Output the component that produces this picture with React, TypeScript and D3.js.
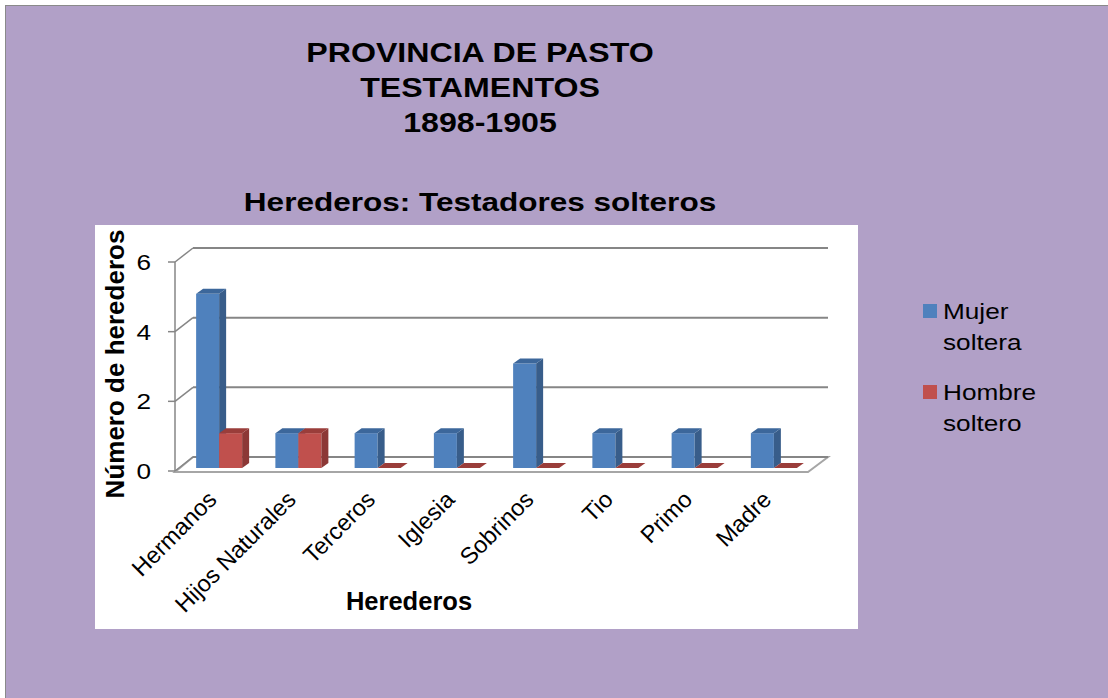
import * as React from 'react';
import { scaleBand, scaleLinear } from 'd3';

const categories = ["Hermanos", "Hijos Naturales", "Terceros", "Iglesia", "Sobrinos", "Tio", "Primo", "Madre"];
const seriesNames = ["Mujer soltera", "Hombre soltero"];
const mujerSoltera = [5, 1, 1, 1, 3, 1, 1, 1];
const hombreSoltero = [1, 1, 0, 0, 0, 0, 0, 0];
const yTicks = [0, 2, 4, 6];
const titleLines = ["PROVINCIA DE PASTO", "TESTAMENTOS", "1898-1905"];

const colors: { [key: string]: { front: string, side: string, top: string } } = {
    "Mujer soltera": { front: "#4F81BD", side: "#385D8A", top: "#3C679B" },
    "Hombre soltero": { front: "#C0504D", side: "#8C3836", top: "#9A3D3A" },
};

const FONT = "'Liberation Sans', Arial, sans-serif";
const STRETCH = 1.19;

const App = () => {
    const width = 1108, height = 698;
    // 3d frame
    const x0 = 175, x1 = 808;
    const DX = 18, DY = -14;
    const barDX = 7, barDY = -5;

    const yScale = scaleLinear().domain([0, 6]).range([471, 262]);
    const xScale = scaleBand().domain(categories).range([176, 810]);
    const xSub = scaleBand().domain(seriesNames).range([-23, 23]);
    const values: { [key: string]: number[] } = {
        "Mujer soltera": mujerSoltera,
        "Hombre soltero": hombreSoltero,
    };

    const base = yScale(0) - 3;
    const center = (c: string) => (xScale(c) || 0) + xScale.bandwidth() / 2 + 3.5;
    const y0 = yScale(0);

    return (
        <div style={{ position: 'fixed', left: 0, top: 0 }}>
            <svg width={width} height={height} style={{ display: 'block', fontFamily: FONT }}>
                <rect x={0} y={0} width={width} height={height} fill="#ffffff" />
                <rect x={5.5} y={5.5} width={width + 10} height={height + 10} fill="#B1A0C7" stroke="#8a8a8a" strokeWidth={1} />

                {titleLines.map((t, i) => (
                    <text key={t} transform={`translate(480, ${62 + i * 35}) scale(${STRETCH},1)`}
                        textAnchor="middle" fontWeight="bold" fontSize={27} fill="#000">{t}</text>
                ))}
                <text transform={`translate(480, 211) scale(${STRETCH},1)`} textAnchor="middle"
                    fontWeight="bold" fontSize={26.5} fill="#000">Herederos: Testadores solteros</text>

                {/* plot area */}
                <rect x={95} y={225} width={763} height={404} fill="#ffffff" />

                {/* floor */}
                <polygon points={`${x0},${y0 + 1} ${x1},${y0 + 1} ${x1 + 20},${y0 + DY} ${x0 + DX},${y0 + DY}`}
                    fill="#ffffff" stroke="#a6a6a6" strokeWidth={2} />

                {/* back wall grid + left wall diagonals */}
                {yTicks.map((t) => (
                    <g key={t}>
                        <line x1={x0 + DX} x2={x1 + 20} y1={yScale(t) + DY} y2={yScale(t) + DY} stroke="#868686" strokeWidth={2} />
                        <line x1={x0} x2={x0 + DX} y1={yScale(t)} y2={yScale(t) + DY} stroke="#868686" strokeWidth={1.5} />
                        <line x1={x0 - 7} x2={x0} y1={yScale(t)} y2={yScale(t)} stroke="#868686" strokeWidth={1.5} />
                        <text transform={`translate(151, ${yScale(t) + 8}) scale(${STRETCH},1)`} textAnchor="end"
                            fontSize={22} fill="#000">{t}</text>
                    </g>
                ))}
                <line x1={x0} x2={x0} y1={yScale(6)} y2={yScale(0)} stroke="#868686" strokeWidth={1.5} />

                {/* bars */}
                {categories.map((c, i) => (
                    <g key={c}>
                        {seriesNames.map((s) => {
                            const v = values[s][i];
                            const x = center(c) + (xSub(s) || 0);
                            const w = xSub.bandwidth();
                            const top = yScale(v) - 3;
                            const col = colors[s];
                            return (
                                <g key={s}>
                                    {v > 0 && <rect x={x} y={top} width={w} height={base - top} fill={col.front} />}
                                    {v > 0 && <polygon points={`${x + w},${top} ${x + w + barDX},${top + barDY} ${x + w + barDX},${base + barDY} ${x + w},${base}`} fill={col.side} />}
                                    <polygon points={`${x},${top} ${x + barDX},${top + barDY} ${x + w + barDX},${top + barDY} ${x + w},${top}`} fill={col.top} />
                                </g>
                            );
                        })}
                        <text transform={`translate(${center(c) - 1}, 501) rotate(-45)`} textAnchor="end"
                            fontSize={23.5} fill="#000">{c}</text>
                    </g>
                ))}

                {/* axis titles */}
                <text transform="translate(124, 364) rotate(-90)" textAnchor="middle" fontWeight="bold" fontSize={26} fill="#000">Número de herederos</text>
                <text x={409} y={610} textAnchor="middle" fontWeight="bold" fontSize={25.5} fill="#000">Herederos</text>

                {/* legend */}
                {seriesNames.map((s, i) => {
                    const parts = s.split(" ");
                    const ly = 304 + i * 81;
                    return (
                        <g key={s}>
                            <rect x={923} y={ly} width={14} height={14} fill={colors[s].front} />
                            {parts.map((p, j) => (
                                <text key={p} transform={`translate(943, ${ly + 15 + j * 31}) scale(${STRETCH},1)`}
                                    fontSize={22} fill="#000">{p}</text>
                            ))}
                        </g>
                    );
                })}
            </svg>
        </div>
    );
};

export default App;
